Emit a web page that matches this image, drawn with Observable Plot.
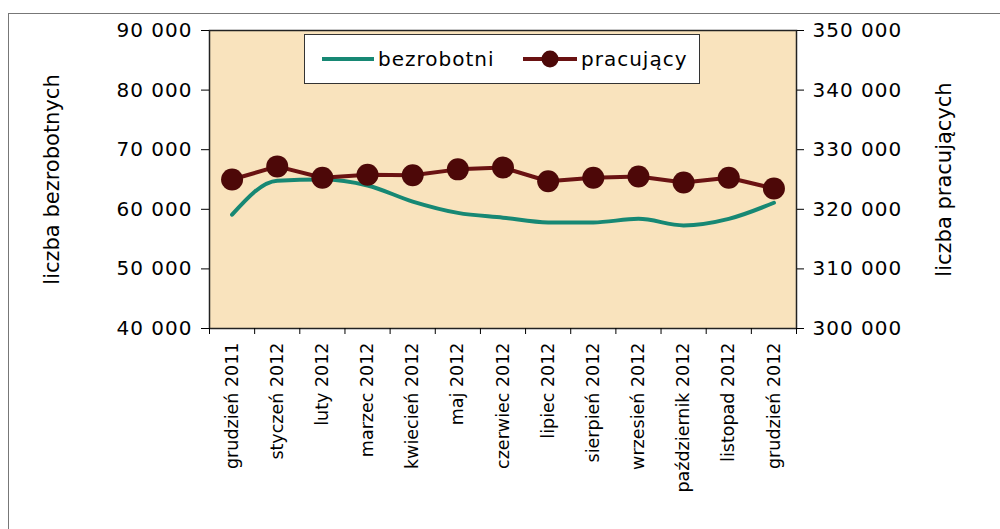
<!DOCTYPE html>
<html><head><meta charset="utf-8">
<script src="https://cdn.jsdelivr.net/npm/d3@7"></script>
<script src="https://cdn.jsdelivr.net/npm/@observablehq/plot@0.6"></script>
<style>
body{margin:0;background:#fff;font-family:"DejaVu Sans",Verdana,sans-serif;}
#wrap{position:relative;width:1000px;height:529px;overflow:hidden}
#border{position:absolute;left:8px;top:13px;width:1000px;height:530px;border-left:1.5px solid #777;border-top:1.5px solid #777;box-sizing:border-box}
#legend{position:absolute;left:304px;top:34px;width:396px;height:50px;background:#fff;border:1px solid #333;box-sizing:border-box;font-size:20px;letter-spacing:1px;color:#000}
#legend .it{position:absolute;top:0;height:48px;display:flex;align-items:center}
#legend svg{display:block;margin-right:4px}
#chart svg{position:absolute;left:0;top:0}
g[aria-label="y-axis tick label"]{letter-spacing:1px}
</style></head>
<body>
<div id="wrap"><div id="border"></div><div id="chart"></div>
<div id="legend">
  <div class="it" style="left:17px"><svg width="52" height="10"><line x1="0" x2="52" y1="5" y2="5" stroke="#178874" stroke-width="4"/></svg><span>bezrobotni</span></div>
  <div class="it" style="left:218px"><svg width="54" height="24"><line x1="0" x2="54" y1="12" y2="12" stroke="#6a1212" stroke-width="4"/><circle cx="27" cy="12" r="8.5" fill="#4d0808"/></svg><span>pracujący</span></div>
</div>
</div>
<script>
const months = ["grudzień 2011","styczeń 2012","luty 2012","marzec 2012","kwiecień 2012","maj 2012","czerwiec 2012","lipiec 2012","sierpień 2012","wrzesień 2012","październik 2012","listopad 2012","grudzień 2012"];
const bezrobotni = [59100, 64800, 65000, 64000, 61300, 59400, 58600, 57800, 57800, 58400, 57300, 58400, 61100];
const pracujacy = [325000, 327200, 325300, 325800, 325700, 326700, 327000, 324700, 325300, 325500, 324500, 325300, 323500];
const leftDomain = [40000, 90000];
const rightDomain = [300000, 350000];
const leftTicks = [40000, 50000, 60000, 70000, 80000, 90000];
const leftTitle = "liczba bezrobotnych";
const rightTitle = "liczba pracujących";

const toLeft = d3.scaleLinear().domain(rightDomain).range(leftDomain);
const fmt = v => d3.format(",")(Math.round(v)).replace(/,/g, " ");

const bezRows = months.map((m, i) => ({i, v: bezrobotni[i]}));
const pracRows = months.map((m, i) => ({i, v: pracujacy[i]}));

const chart = Plot.plot({
  width: 1000, height: 529,
  marginLeft: 209, marginRight: 204, marginTop: 30, marginBottom: 201,
  x: {domain: [-0.5, months.length - 0.5]},
  y: {domain: leftDomain},
  style: {fontFamily: '"DejaVu Sans", Verdana, sans-serif', background: "transparent", color: "#000"},
  marks: [
    Plot.frame({fill: "#f9e3bd", stroke: null}),
    Plot.line(bezRows, {x: "i", y: "v", stroke: "#178874", strokeWidth: 4, curve: "monotone-x"}),
    Plot.line(pracRows, {x: "i", y: d => toLeft(d.v), stroke: "#6a1212", strokeWidth: 4}),
    Plot.dot(pracRows, {x: "i", y: d => toLeft(d.v), r: 11, fill: "#4d0808", stroke: "none"}),
    Plot.frame({stroke: "#222", strokeWidth: 1.5}),
    Plot.axisY({ticks: leftTicks, tickFormat: fmt, tickSize: 8, tickPadding: 9, fontSize: 20, label: null}),
    Plot.axisY({anchor: "right", ticks: leftTicks, tickFormat: d => fmt(toLeft.invert(d)), tickSize: 7, tickPadding: 9, fontSize: 20, label: null}),
    Plot.axisX({ticks: d3.range(months.length), tickFormat: i => months[i], tickSize: 0, tickPadding: 14, tickRotate: -90, fontSize: 17.5, label: null}),
    Plot.axisX({ticks: d3.range(months.length + 1).map(i => i - 0.5), tickFormat: () => "", tickSize: 6, label: null}),
    Plot.text([leftTitle], {frameAnchor: "left", textAnchor: "middle", dx: -157, rotate: -90, fontSize: 21}),
    Plot.text([rightTitle], {frameAnchor: "right", textAnchor: "middle", dx: 148, rotate: -90, fontSize: 21})
  ]
});
document.getElementById("chart").appendChild(chart);
</script>
</body></html>
